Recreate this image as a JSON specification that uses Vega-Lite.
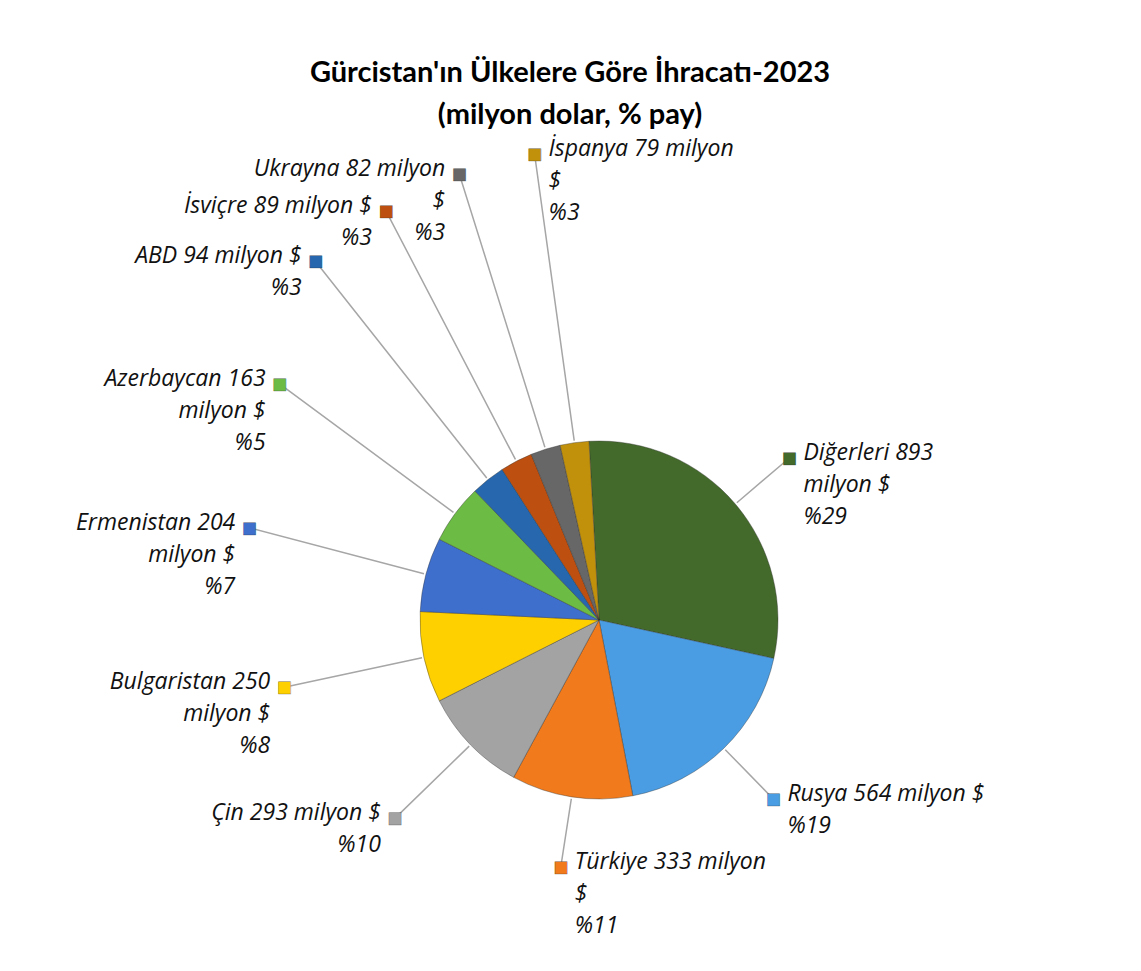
{
  "$schema": "https://vega.github.io/schema/vega-lite/v6.json",
  "width": 1198,
  "height": 700,
  "autosize": {"type": "none"},
  "padding": {"left": 0, "top": 270, "right": 0, "bottom": 0},
  "background": "white",
  "title": {
    "text": ["Gürcistan'ın Ülkelere Göre İhracatı-2023", "(milyon dolar, % pay)"],
    "font": "Lato",
    "fontSize": 29,
    "fontWeight": "bold",
    "color": "#000000",
    "anchor": "middle",
    "frame": "group",
    "dx": -29,
    "offset": 8,
    "lineHeight": 42
  },
  "data": {
    "values": [
      {"ulke": "Diğerleri", "deger": 893, "etiket": "Diğerleri 893\nmilyon $\n%29"},
      {"ulke": "Rusya", "deger": 564, "etiket": "Rusya 564 milyon $\n%19"},
      {"ulke": "Türkiye", "deger": 333, "etiket": "Türkiye 333 milyon\n$\n%11"},
      {"ulke": "Çin", "deger": 293, "etiket": "Çin 293 milyon $\n%10"},
      {"ulke": "Bulgaristan", "deger": 250, "etiket": "Bulgaristan 250\nmilyon $\n%8"},
      {"ulke": "Ermenistan", "deger": 204, "etiket": "Ermenistan 204\nmilyon $\n%7"},
      {"ulke": "Azerbaycan", "deger": 163, "etiket": "Azerbaycan 163\nmilyon $\n%5"},
      {"ulke": "ABD", "deger": 94, "etiket": "ABD 94 milyon $\n%3"},
      {"ulke": "İsviçre", "deger": 89, "etiket": "İsviçre 89 milyon $\n%3"},
      {"ulke": "Ukrayna", "deger": 82, "etiket": "Ukrayna 82 milyon\n$\n%3"},
      {"ulke": "İspanya", "deger": 79, "etiket": "İspanya 79 milyon\n$\n%3"}
    ]
  },
  "encoding": {
    "theta": {"field": "deger", "type": "quantitative", "stack": true, "scale": {"range": [-0.0559, 6.2273]}},
    "order": {"field": "deger", "type": "quantitative", "sort": "descending"},
    "detail": {"field": "ulke", "type": "nominal"}
  },
  "layer": [
    {
      "mark": {"type": "arc", "stroke": "#303030", "strokeWidth": 0.7, "strokeOpacity": 0.55},
      "encoding": {
        "radius": {"value": 179},
        "color": {
          "field": "ulke", "type": "nominal", "legend": null,
          "scale": {
            "domain": ["Diğerleri", "Rusya", "Türkiye", "Çin", "Bulgaristan", "Ermenistan", "Azerbaycan", "ABD", "İsviçre", "Ukrayna", "İspanya"],
            "range": ["#43692b", "#4a9de3", "#f07a1c", "#a3a3a3", "#ffd000", "#3e6fcc", "#6cbb45", "#2667ad", "#bd5010", "#676767", "#c1910c"]
          }
        }
      }
    },
    {
      "mark": {"type": "arc", "padAngle": 3.1416, "filled": false, "stroke": "#a6a6a6", "strokeWidth": 1.5},
      "encoding": {
        "radius": {"field": "deger", "type": "quantitative", "scale": {"type": "linear", "domain": [79, 333], "range": [470, 250], "clamp": true, "zero": false}},
        "radius2": {"value": 181}
      }
    },
    {
      "mark": {"type": "text", "text": "■", "font": "DejaVu Sans", "fontSize": 16, "align": "center", "baseline": "middle", "stroke": "#202020", "strokeWidth": 0.4, "strokeOpacity": 0.6},
      "encoding": {
        "radius": {"field": "deger", "type": "quantitative"},
        "color": {"field": "ulke", "type": "nominal", "legend": null}
      }
    },
    {
      "mark": {"type": "text", "font": "Open Sans", "fontSize": 23, "fontStyle": "italic", "align": "left", "baseline": "top", "dx": 14, "dy": -16, "lineBreak": "\n", "lineHeight": 32},
      "encoding": {
        "radius": {"field": "deger", "type": "quantitative"},
        "text": {"field": "etiket", "type": "nominal"},
        "color": {"value": "#111111"},
        "opacity": {"condition": {"test": "indexof(['Diğerleri','Rusya','Türkiye','İspanya'], datum.ulke) >= 0", "value": 1}, "value": 0}
      }
    },
    {
      "mark": {"type": "text", "font": "Open Sans", "fontSize": 23, "fontStyle": "italic", "align": "right", "baseline": "top", "dx": -14, "dy": -16, "lineBreak": "\n", "lineHeight": 32},
      "encoding": {
        "radius": {"field": "deger", "type": "quantitative"},
        "text": {"field": "etiket", "type": "nominal"},
        "color": {"value": "#111111"},
        "opacity": {"condition": {"test": "indexof(['Diğerleri','Rusya','Türkiye','İspanya'], datum.ulke) < 0", "value": 1}, "value": 0}
      }
    }
  ],
  "config": {"view": {"stroke": null}, "font": "Lato"}
}
